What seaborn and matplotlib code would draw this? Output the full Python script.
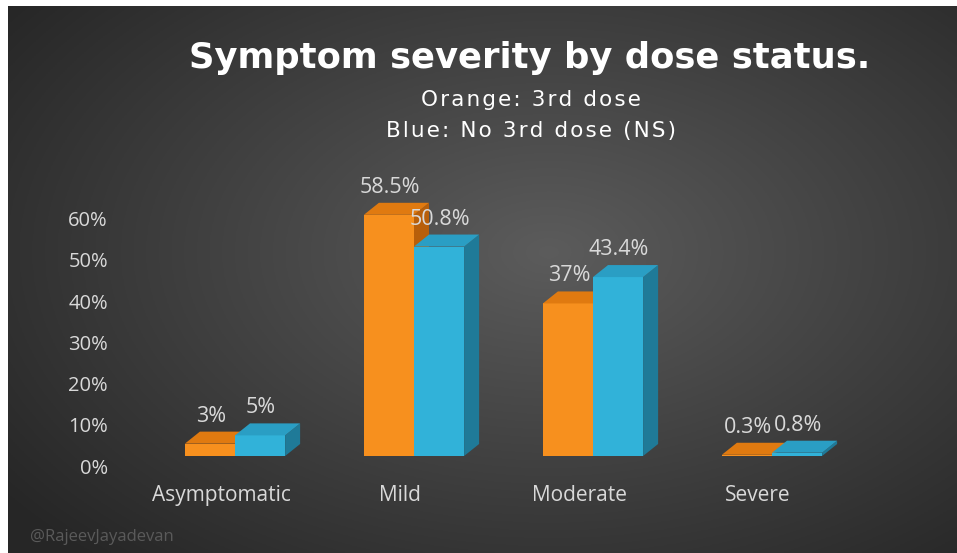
import numpy as np
import pandas as pd
import matplotlib
matplotlib.use("Agg")
import matplotlib.pyplot as plt
from matplotlib.patches import Polygon
import seaborn as sns

# data
categories = ["Asymptomatic", "Mild", "Moderate", "Severe"]
third_dose = [3, 58.5, 37, 0.3]
no_third_dose = [5, 50.8, 43.4, 0.8]
third_labels = ["3%", "58.5%", "37%", "0.3%"]
no_third_labels = ["5%", "50.8%", "43.4%", "0.8%"]
y_ticks = [0, 10, 20, 30, 40, 50, 60]

df = pd.DataFrame({
    "category": categories * 2,
    "value": third_dose + no_third_dose,
    "dose": ["3rd dose"] * 4 + ["No 3rd dose"] * 4,
})
labels = third_labels + no_third_labels

W, H, DPI = 957, 553, 100
txt = "#d9d9d9"
front = ["#f7901e", "#31b2d9"]
top = ["#e07a10", "#2a9ec4"]
side = ["#b85f0a", "#1f7a98"]

sns.set_style("dark")
plt.rcParams["font.family"] = ["Open Sans", "DejaVu Sans"]


def spaced(s):
    # poor man's letter spacing with hair spaces
    return "\u200a".join(s)


fig = plt.figure(figsize=(W / DPI, H / DPI), dpi=DPI, facecolor="white")

# background: dark radial gradient
bg = fig.add_axes([8 / W, 0, (W - 8) / W, (H - 6) / H], zorder=-5)
gx, gy = np.meshgrid(np.linspace(0, 1, 400), np.linspace(0, 1, 240))
r = np.sqrt(((gx - 0.57) / 0.75) ** 2 + ((gy - 0.45) / 0.8) ** 2)
shade = np.clip(0.36 - 0.22 * r, 0.15, 0.36)
bg.imshow(np.dstack([shade] * 3), aspect="auto", extent=[0, 1, 0, 1], origin="upper")
bg.set_axis_off()

# main axes with bars
x0, x1 = 145.5, 861.5
y_base, y_top = 456, 188
ax = fig.add_axes([x0 / W, (H - y_base) / H, (x1 - x0) / W, (y_base - y_top) / H])
ax.patch.set_alpha(0)
sns.barplot(data=df, x="category", y="value", hue="dose", palette=front,
            width=0.56, saturation=1, legend=False, ax=ax, edgecolor="none")
ax.set_xlim(-0.5, 3.5)
ax.set_ylim(0, 65)
ax.set_xticks([])
ax.set_yticks([])
ax.set_xlabel("")
ax.set_ylabel("")
ax.grid(False)
for s in ax.spines.values():
    s.set_visible(False)

# 3D depth offsets in data units (about 15 px right, 12 px up)
px_x = (x1 - x0) / 4.0
px_y = (y_base - y_top) / 65.0
dx = 15 / px_x
dy = 12 / px_y

for i, bar in enumerate(ax.patches[:8]):
    h = i // 4
    bx, bw, bh = bar.get_x(), bar.get_width(), bar.get_height()
    bar.set_zorder(2 + h)
    top_face = Polygon([(bx, bh), (bx + bw, bh), (bx + bw + dx, bh + dy), (bx + dx, bh + dy)],
                       closed=True, facecolor=top[h], edgecolor="none", zorder=2 + h + 0.1)
    side_face = Polygon([(bx + bw, 0), (bx + bw + dx, dy), (bx + bw + dx, bh + dy), (bx + bw, bh)],
                        closed=True, facecolor=side[h], edgecolor="none", zorder=2 + h + 0.1)
    ax.add_patch(side_face)
    ax.add_patch(top_face)
    ax.annotate(labels[i], (bx + bw / 2, bh + dy), xytext=(1, 5), textcoords="offset pixels",
                ha="center", va="bottom", color=txt, fontsize=15.5, zorder=10)

# tick labels sit slightly lower/left than the bar floor (3D perspective)
ax2 = fig.add_axes([(x0 - 14) / W, (H - y_base - 10) / H, (x1 - x0) / W, (y_base - y_top) / H],
                   zorder=-1)
ax2.patch.set_alpha(0)
for s in ax2.spines.values():
    s.set_visible(False)
ax2.set_xlim(-0.5, 3.5)
ax2.set_ylim(0, 65)
ax2.set_xticks(range(len(categories)))
ax2.set_xticklabels(categories)
ax2.set_yticks(y_ticks)
ax2.set_yticklabels([f"{t}%" for t in y_ticks])
ax2.tick_params(axis="x", length=0, pad=14, labelsize=15, labelcolor=txt)
ax2.tick_params(axis="y", length=0, pad=17, labelsize=14.5, labelcolor=txt)
ax2.grid(False)

fig.text(530 / W, 1 - 58 / H, "Symptom severity by dose status.", ha="center", va="center",
         color="white", fontsize=25.5, fontweight="bold", family=["DejaVu Sans"])
fig.text(531 / W, 1 - 100 / H, spaced("Orange: 3rd dose"), ha="center", va="center",
         color="white", fontsize=15.5, family=["DejaVu Sans"])
fig.text(531 / W, 1 - 131 / H, spaced("Blue: No 3rd dose (NS)"), ha="center", va="center",
         color="white", fontsize=15.5, family=["DejaVu Sans"])
fig.text(30 / W, 1 - 537 / H, "@RajeevJayadevan", ha="left", va="center",
         color="#5a5a5a", fontsize=12)

fig.savefig("out.png", dpi=DPI, facecolor="white")
